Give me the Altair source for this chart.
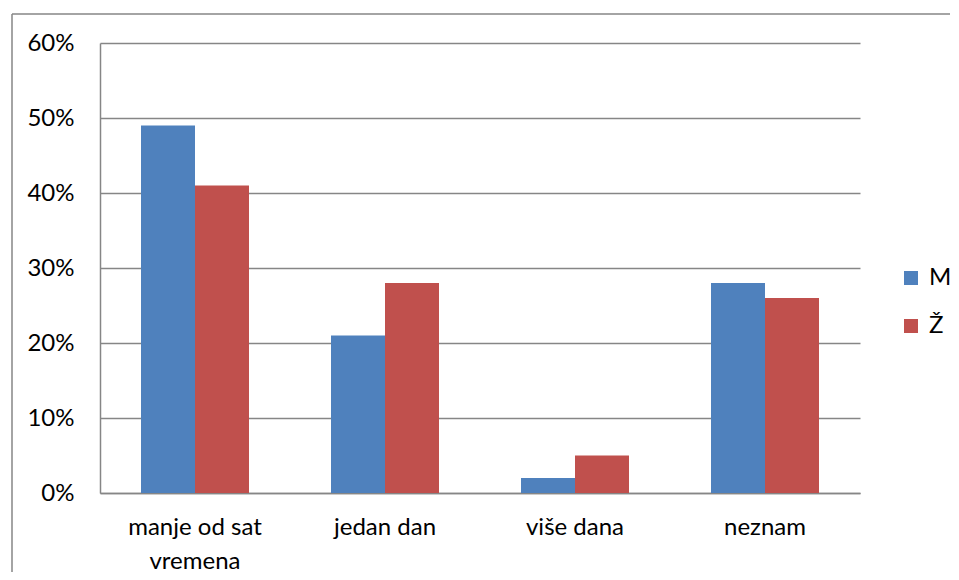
import altair as alt
import pandas as pd

categories = ["manje od sat vremena", "jedan dan", "više dana", "neznam"]
series = ["M", "Ž"]
values_m = [0.49, 0.21, 0.02, 0.28]
values_z = [0.41, 0.28, 0.05, 0.26]
colors = ["#4F81BD", "#C0504D"]

rows = []
for c, m, z in zip(categories, values_m, values_z):
    rows.append({"kat": c, "spol": "M", "v": m})
    rows.append({"kat": c, "spol": "Ž", "v": z})
df = pd.DataFrame(rows)

FONT = "Lato"
FS = 24
GRID = "#868686"

bars = alt.Chart(df).mark_bar().encode(
    x=alt.X("kat:N", sort=categories, title=None,
            scale=alt.Scale(paddingInner=0.4316, paddingOuter=0.2158),
            axis=alt.Axis(labelAngle=0, ticks=False, domainColor=GRID, domainWidth=1.5,
                          labelFont=FONT, labelFontSize=FS, labelColor="#000000",
                          labelPadding=22, labelLineHeight=34, labelLimit=300,
                          labelExpr="datum.label == 'manje od sat vremena' ? ['manje od sat', 'vremena'] : datum.label")),
    xOffset=alt.XOffset("spol:N", sort=series, scale=alt.Scale(paddingInner=0, paddingOuter=0)),
    y=alt.Y("v:Q", title=None,
            scale=alt.Scale(domain=[0, 0.6], nice=False),
            axis=alt.Axis(format=".0%", values=[0, 0.1, 0.2, 0.3, 0.4, 0.5, 0.6], ticks=False,
                          domainColor=GRID, domainWidth=1.5, gridColor=GRID, gridWidth=1.5,
                          labelFont=FONT, labelFontSize=FS, labelColor="#000000",
                          labelPadding=26)),
    color=alt.Color("spol:N", sort=series, title=None,
                    scale=alt.Scale(domain=series, range=colors),
                    legend=alt.Legend(orient="none", legendX=799, legendY=223,
                                      symbolType="square", symbolSize=196, symbolStrokeWidth=0,
                                      labelFont=FONT, labelFontSize=FS, labelColor="#000000",
                                      labelOffset=6, rowPadding=24)),
)

frame = pd.DataFrame({"a": [0]})
border_top = alt.Chart(frame).mark_rule(stroke=GRID, strokeWidth=1.5).encode(
    x=alt.value(-88), x2=alt.value(2000), y=alt.value(-29)
)
border_left = alt.Chart(frame).mark_rule(stroke=GRID, strokeWidth=1.5).encode(
    x=alt.value(-88), y=alt.value(-29), y2=alt.value(2000)
)

chart = alt.layer(border_top, border_left, bars).properties(
    width=760, height=450,
    autosize=alt.AutoSizeParams(type="none"),
    padding={"left": 92, "top": 35, "right": 90, "bottom": 79},
    background="white",
).configure_view(stroke=None)

chart.save("out.html", embed_options={"renderer": "svg", "actions": False})
